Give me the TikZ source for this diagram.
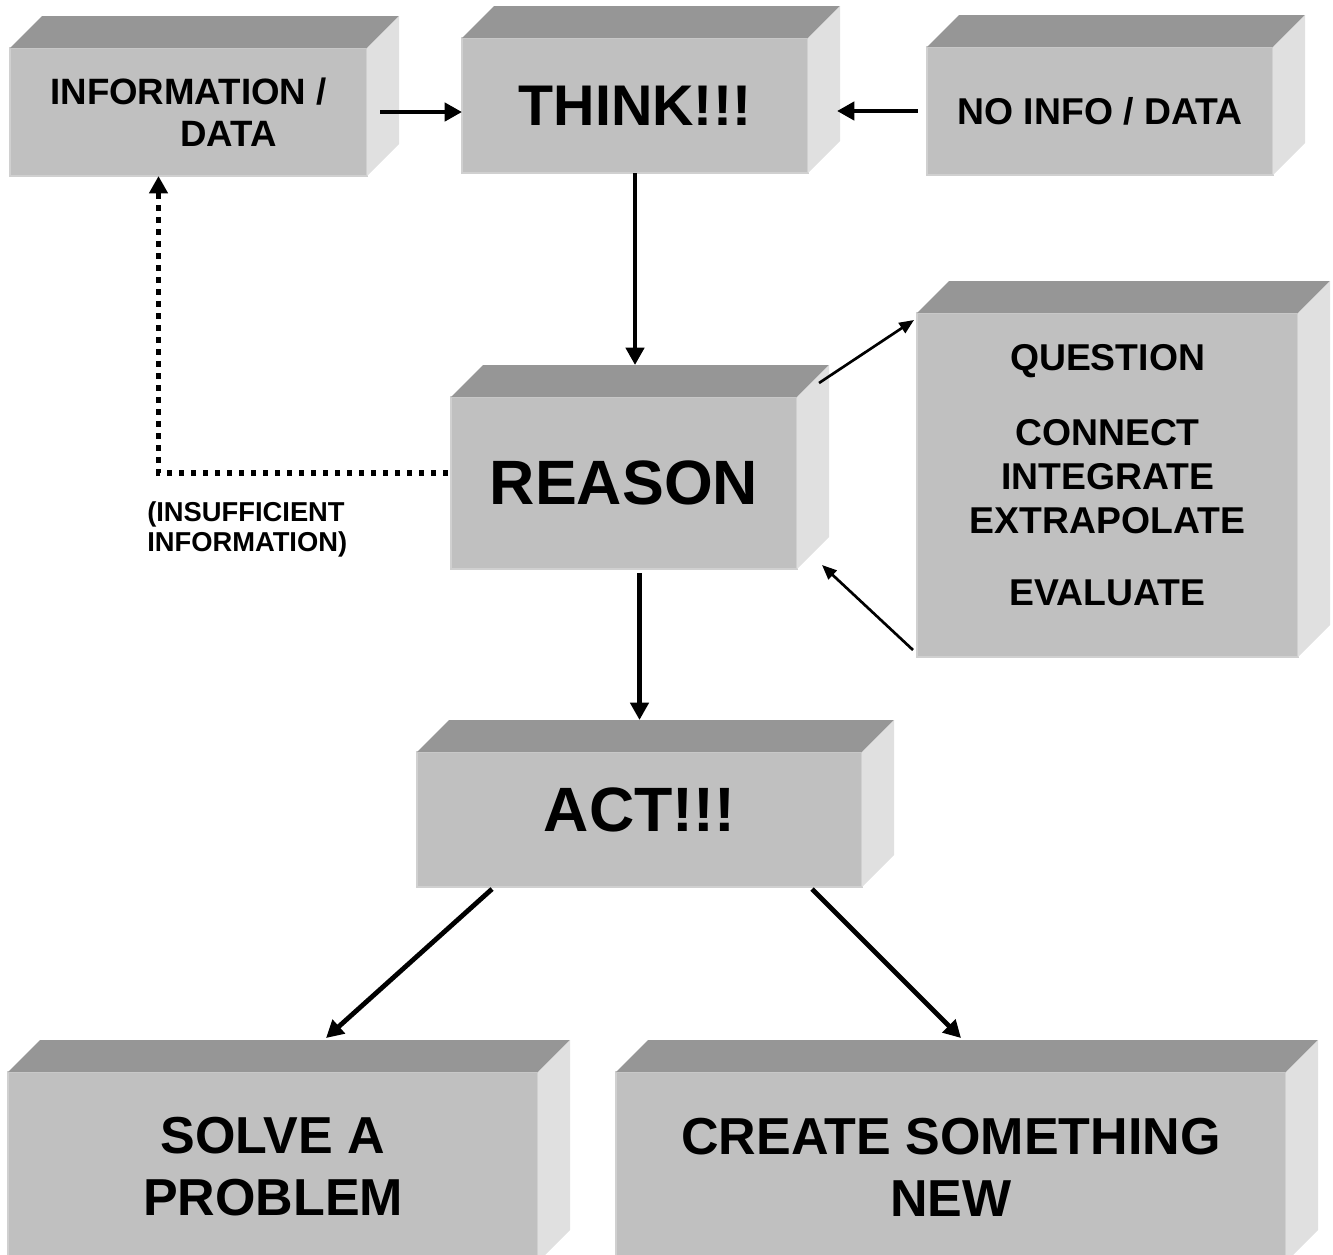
\documentclass[tikz,border=0pt]{standalone}
\usepackage{fontspec}
\setmainfont{Liberation Sans}
\usepackage{tikz}
\usetikzlibrary{calc,arrows.meta,positioning}
\definecolor{facefront}{RGB}{192,192,192}
\definecolor{facetop}{RGB}{150,150,150}
\definecolor{faceside}{RGB}{224,224,224}
\definecolor{faceedge}{RGB}{208,208,208}
\tikzstyle{face}=[rectangle,fill=facefront,draw=faceedge,line width=0.8pt,inner sep=0pt,outer sep=0pt]
\tikzstyle{arr}=[-{Triangle[length=13pt,width=13.5pt]},line width=3.6pt]
\tikzstyle{thin arr}=[-{Triangle[length=11pt,width=9pt]},line width=2pt]
\tikzstyle{dot arr}=[arr,line width=4pt,dash pattern=on 4pt off 5pt]
% top and side faces of a block, behind its front node
\newcommand{\boxfaces}[1]{%
  \fill[facetop] (#1.north west) -- ++(32,-32) -- ($(#1.north east)+(32,-32)$) -- (#1.north east) -- cycle;
  \fill[faceside] (#1.north east) -- ++(32,-32) -- ($(#1.south east)+(32,-32)$) -- (#1.south east) -- cycle;
}

\begin{document}
\begin{tikzpicture}[x=0.75pt,y=-0.75pt]
\useasboundingbox (0,0) rectangle (1333,1254);

		% top row
		\node(info)[face,minimum width=267.75pt,minimum height=96pt,align=left,font=\bfseries\fontsize{27.5}{31.5}\selectfont] at (188.5,112) {INFORMATION /\\\hspace*{97.5pt}DATA};
		\node(think)[face,minimum width=259.5pt,minimum height=101.25pt,font=\bfseries\fontsize{43}{50}\selectfont] at (635,105.5) {THINK!!!};
		\node(noinfo)[face,minimum width=259.5pt,minimum height=96pt,font=\bfseries\fontsize{28}{33}\selectfont] at (1100,111) {NO INFO / DATA};

		% middle row
		\node(reason)[face,minimum width=259.5pt,minimum height=129pt,font=\bfseries\fontsize{47}{55}\selectfont] at (624,483) {REASON};
		\node(question)[face,minimum width=285.75pt,minimum height=258pt] at (1107.5,485) {};
		\node(steps)[align=center,inner sep=0pt,font=\bfseries\fontsize{28}{33}\selectfont] at (1107.5,475)
		    {QUESTION\\[23pt]CONNECT\\INTEGRATE\\EXTRAPOLATE\\[21pt]EVALUATE};
		\node(insuff)[anchor=west,align=left,inner sep=0pt,font=\bfseries\fontsize{20.5}{22.5}\selectfont] at (147,529) {(INSUFFICIENT\\INFORMATION)};

		% lower rows
		\node(act)[face,minimum width=333.75pt,minimum height=101.25pt,text depth=15pt,font=\bfseries\fontsize{47}{55}\selectfont] at (639.5,819.5) {ACT!!!};
		\node(solve)[face,minimum width=397.5pt,minimum height=142.5pt,align=center,font=\bfseries\fontsize{39}{46.5}\selectfont] at (273,1167) {SOLVE A\\PROBLEM};
		\node(create)[face,minimum width=502.5pt,minimum height=142.5pt,align=center,font=\bfseries\fontsize{39}{46.5}\selectfont] at (951,1167) {CREATE SOMETHING\\NEW};

		\foreach \b in {info,think,noinfo,reason,question,act,solve,create}
		    \boxfaces{\b};

		% connectors
		\draw[arr] ([xshift=10pt]info.east) -- (info.east -| think.west);
		\draw[arr] ([xshift=-7pt]noinfo.west) -- ($(noinfo.west -| think.east)+(29,0)$);
		\draw[arr] (think.south) -- ($(think.south |- reason.north)+(0,-32)$);
		\draw[arr] ($(reason.south -| act.north)+(0,4)$) -- ($(act.north)+(0,-32)$);
		\draw[thin arr] ($(reason.north east)+(22,-14)$) -- ($(question.north west)+(-3,7)$);
		\draw[thin arr] ($(question.south west)+(-4,-7)$) -- ($(reason.south east)+(25,-4)$);
		\draw[dot arr] ($(reason.west)+(-3,-10)$) -| ($(info.south)+(-30,0)$);
		\draw[arr] ($(act.south west)+(75,2)$) -- ($(solve.north)+(53,-34)$);
		\draw[arr] ($(act.south east)+(-50,2)$) -- ($(create.north)+(10,-34)$);

\end{tikzpicture}
\end{document}
